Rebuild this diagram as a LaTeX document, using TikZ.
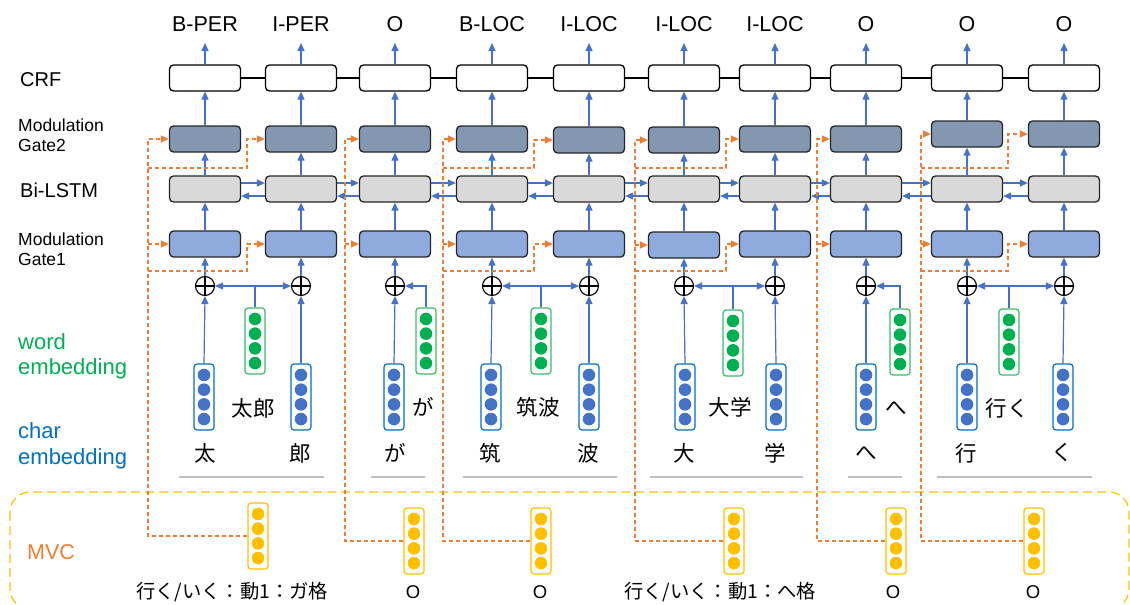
\documentclass[tikz,border=0pt]{standalone}
\usepackage{fontspec}
\setmainfont{Liberation Sans}
\newfontfamily\jp{Noto Sans CJK JP}
\usetikzlibrary{arrows.meta,calc}

\definecolor{arrowblue}{HTML}{4472C4}
\definecolor{dotblue}{HTML}{4472C4}
\definecolor{vecblue}{HTML}{0070C0}
\definecolor{mvcorange}{HTML}{ED7D31}
\definecolor{dotgreen}{HTML}{00B050}
\definecolor{vecgreen}{HTML}{3CB96A}
\definecolor{dotyellow}{HTML}{FFC000}
\definecolor{gatetwo}{HTML}{8497B0}
\definecolor{gateone}{HTML}{8FAADC}
\definecolor{lstmgray}{HTML}{D9D9D9}
\definecolor{boxedge}{HTML}{262626}
\definecolor{linegray}{HTML}{BFBFBF}

\newcommand\embvec[5]{%
  \node[vbox,draw=#4] (#1) at (#2,#3) {};
  \foreach \k in {-22.05,-7.35,7.35,22.05}
    \fill[#5] ($(#1.center)+(0,\k)$) circle[radius=6.3pt];
}

\begin{document}
\begin{tikzpicture}[x=1pt,y=-1pt,
  cell/.style={rectangle,rounded corners=4pt,draw=boxedge,line width=1.3pt,
    minimum width=71pt,minimum height=26pt,inner sep=0pt},
  crfbox/.style={cell,fill=white,draw=black},
  gtwobox/.style={cell,fill=gatetwo},
  lstmbox/.style={cell,fill=lstmgray},
  gonebox/.style={cell,fill=gateone},
  barrow/.style={draw=arrowblue,line width=1.2pt,-{Triangle[length=8pt,width=7pt]}},
  odash/.style={draw=mvcorange,line width=1.3pt,dash pattern=on 4pt off 3pt,
    -{Triangle[length=8pt,width=7pt]}},
  opl/.style={circle,draw=black,line width=1.1pt,minimum size=19pt,inner sep=0pt,fill=white,
    path picture={\draw[black,line width=1.1pt]
      (path picture bounding box.north) -- (path picture bounding box.south)
      (path picture bounding box.west) -- (path picture bounding box.east);}},
  vbox/.style={rectangle,rounded corners=3pt,line width=1.2pt,minimum width=20pt,
    minimum height=66pt,inner sep=0pt,fill=white},
  toplab/.style={font=\fontsize{21.5}{24}\selectfont,inner sep=0pt},
  sidelab/.style={anchor=west,align=left,inner sep=0pt},
  jplab/.style={font=\jp\fontsize{21.5}{24}\selectfont,inner sep=0pt},
  botlab/.style={font=\jp\fontsize{19.3}{22}\selectfont,inner sep=0pt},
  olab/.style={font=\fontsize{18.5}{22}\selectfont,inner sep=0pt},
  uline/.style={draw=linegray,line width=1.5pt}
]
\useasboundingbox (0,0) rectangle (1130,605);

% MVC area
\draw[draw=dotyellow,line width=1.2pt,dash pattern=on 9pt off 5pt,rounded corners=20pt]
  (10,492) rectangle (1129,609);

% columns
\foreach \i/\x/\gt/\go/\t in {1/205/139/244/B-PER, 2/301/139/244/I-PER, 3/395/139/244/O,
  4/492/139/244/B-LOC, 5/589/140/244/I-LOC, 6/684/140/245/I-LOC, 7/775/139/244/I-LOC,
  8/866/139/244/O, 9/967/134/244/O, 10/1064/134/244/O} {
  \node[crfbox] (crf\i) at (\x,78) {};
  \node[gtwobox] (gt\i) at (\x,\gt) {};
  \node[lstmbox] (bl\i) at (\x,189) {};
  \node[gonebox] (go\i) at (\x,\go) {};
  \node[opl] (op\i) at (\x,286) {};
  \coordinate (tip\i) at (\x,43);
  \node[toplab] (lab\i) at (\x,24) {\t};
  \draw[barrow] (crf\i.north) -- (tip\i);
  \draw[barrow] (gt\i.north) -- (crf\i.south);
  \draw[barrow] (bl\i.north) -- (gt\i.south);
  \draw[barrow] (go\i.north) -- (bl\i.south);
  \draw[barrow] (op\i.north) -- (go\i.south);
}

\foreach \i [count=\j from 2] in {1,...,9} {
  \draw[black,line width=1.2pt] (crf\i.east) -- (crf\j.west);
  \draw[barrow] ([yshift=6pt]bl\i.east) -- ([yshift=6pt]bl\j.west);
  \draw[barrow] ([yshift=-7pt]bl\j.west) -- ([yshift=-7pt]bl\i.east);
}

% char embeddings
\foreach \i/\x in {1/204,2/301,3/394,4/491,5/589,6/685,7/776,8/866,9/967,10/1063} {
  \embvec{cv\i}{\x}{397}{vecblue}{dotblue}
  \draw[barrow] (cv\i.north) -- (op\i.south);
}

% word embeddings
\embvec{wv1}{255}{341}{vecgreen}{dotgreen}
\embvec{wv2}{426}{341}{vecgreen}{dotgreen}
\embvec{wv3}{541}{341}{vecgreen}{dotgreen}
\embvec{wv4}{733}{343}{vecgreen}{dotgreen}
\embvec{wv5}{900}{342}{vecgreen}{dotgreen}
\embvec{wv6}{1009}{342}{vecgreen}{dotgreen}
\draw[barrow] (wv1.north) |- (op1.east);
\draw[barrow] (wv1.north) |- (op2.west);
\draw[barrow] (wv2.north) |- (op3.east);
\draw[barrow] (wv3.north) |- (op4.east);
\draw[barrow] (wv3.north) |- (op5.west);
\draw[barrow] (wv4.north) |- (op6.east);
\draw[barrow] (wv4.north) |- (op7.west);
\draw[barrow] (wv5.north) |- (op8.east);
\draw[barrow] (wv6.north) |- (op9.east);
\draw[barrow] (wv6.north) |- (op10.west);

% MVC vectors
\embvec{m1}{258}{536}{dotyellow}{dotyellow}
\embvec{m2}{414}{541}{dotyellow}{dotyellow}
\embvec{m3}{541}{541}{dotyellow}{dotyellow}
\embvec{m4}{734}{541}{dotyellow}{dotyellow}
\embvec{m5}{896}{541}{dotyellow}{dotyellow}
\embvec{m6}{1034}{541}{dotyellow}{dotyellow}

% orange dashed routing
\coordinate (rowA) at (0,168);
\coordinate (rowB) at (0,271);
\coordinate (tr1) at (148,0);  \coordinate (bx1) at (247,0);
\coordinate (tr2) at (345,0);
\coordinate (tr3) at (443,0);  \coordinate (bx3) at (534,0);
\coordinate (tr4) at (635,0);  \coordinate (bx4) at (726,0);
\coordinate (tr5) at (817,0);
\coordinate (tr6) at (921,0);  \coordinate (bx6) at (1008,0);

% group 1
\draw[odash] (m1.west) -| (tr1 |- gt1.west) -- (gt1.west);
\draw[odash] (tr1 |- go1.west) -- (go1.west);
\draw[odash] (tr1 |- rowA) -| (bx1 |- gt2.west) -- (gt2.west);
\draw[odash] (tr1 |- rowB) -| (bx1 |- go2.west) -- (go2.west);
% group 2
\draw[odash] (m2.west) -| (tr2 |- gt3.west) -- (gt3.west);
\draw[odash] (tr2 |- go3.west) -- (go3.west);
% group 3
\draw[odash] (m3.west) -| (tr3 |- gt4.west) -- (gt4.west);
\draw[odash] (tr3 |- go4.west) -- (go4.west);
\draw[odash] (tr3 |- rowA) -| (bx3 |- gt5.west) -- (gt5.west);
\draw[odash] (tr3 |- rowB) -| (bx3 |- go5.west) -- (go5.west);
% group 4
\draw[odash] (m4.west) -| (tr4 |- gt6.west) -- (gt6.west);
\draw[odash] (tr4 |- go6.west) -- (go6.west);
\draw[odash] (tr4 |- rowA) -| (bx4 |- gt7.west) -- (gt7.west);
\draw[odash] (tr4 |- rowB) -| (bx4 |- go7.west) -- (go7.west);
% group 5
\draw[odash] (m5.west) -| (tr5 |- gt8.west) -- (gt8.west);
\draw[odash] (tr5 |- go8.west) -- (go8.west);
% group 6
\draw[odash] (m6.west) -| (tr6 |- gt9.west) -- (gt9.west);
\draw[odash] (tr6 |- go9.west) -- (go9.west);
\draw[odash] (tr6 |- rowA) -| (bx6 |- gt10.west) -- (gt10.west);
\draw[odash] (tr6 |- rowB) -| (bx6 |- go10.west) -- (go10.west);

% word labels
\node[jplab] (w1) at (253,408) {太郎};
\node[jplab] (w2) at (423,407) {が};
\node[jplab] (w3) at (538,407) {筑波};
\node[jplab] (w4) at (730,407) {大学};
\node[jplab] (w5) at (896,408) {へ};
\node[jplab] (w6) at (1007,408) {行く};

% char labels
\foreach \i/\x/\c in {1/205/太,2/300/郎,3/395/が,4/490/筑,5/588/波,6/684/大,7/775/学,8/866/へ,9/966/行,10/1062/く}
  \node[jplab] (c\i) at (\x,453) {\c};

% underlines
\draw[uline] (179,477) -- (324,477);
\draw[uline] (371,477) -- (425,477);
\draw[uline] (463,477) -- (617,477);
\draw[uline] (650,477) -- (803,477);
\draw[uline] (848,477) -- (902,477);
\draw[uline] (937,477) -- (1092,477);

% bottom labels
\node[botlab] (b1) at (232,592) {行く/いく：動1：ガ格};
\node[olab] (b2) at (413,592) {O};
\node[olab] (b3) at (540,592) {O};
\node[botlab] (b4) at (720,592) {行く/いく：動1：へ格};
\node[olab] (b5) at (893,592) {O};
\node[olab] (b6) at (1033,592) {O};

% side labels
\node[sidelab,font=\fontsize{20}{22}\selectfont] (lcrf) at (20,80) {CRF};
\node[sidelab,font=\fontsize{17.5}{20}\selectfont] (lg2) at (18,135) {Modulation\\Gate2};
\node[sidelab,font=\fontsize{20}{22}\selectfont] (llstm) at (20,190) {Bi-LSTM};
\node[sidelab,font=\fontsize{17.5}{20}\selectfont] (lg1) at (18,249) {Modulation\\Gate1};
\node[sidelab,font=\fontsize{22}{25}\selectfont,text=dotgreen] (lword) at (18,356) {word\\embedding};
\node[sidelab,font=\fontsize{22}{26}\selectfont,text=vecblue] (lchar) at (18,446) {char\\embedding};
\node[sidelab,font=\fontsize{21.5}{24}\selectfont,text=mvcorange] (lmvc) at (27,552) {MVC};
\end{tikzpicture}
\end{document}
